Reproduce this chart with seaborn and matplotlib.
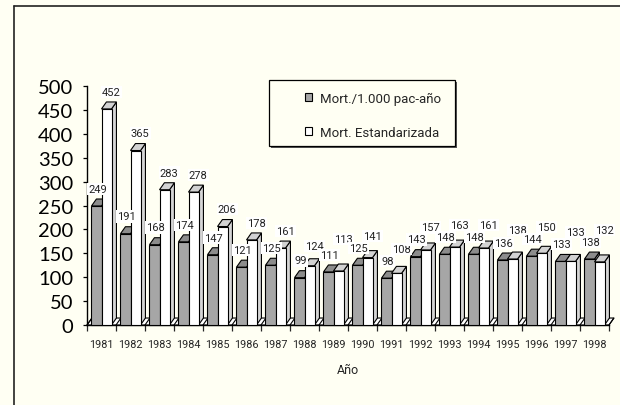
import matplotlib
matplotlib.use("Agg")
import matplotlib.pyplot as plt
from matplotlib.patches import Polygon, Rectangle, Patch
from matplotlib.lines import Line2D
import pandas as pd
import seaborn as sns

# ---- data -------------------------------------------------------------
years = ["1981", "1982", "1983", "1984", "1985", "1986", "1987", "1988", "1989",
         "1990", "1991", "1992", "1993", "1994", "1995", "1996", "1997", "1998"]
mort_rate = [249, 191, 168, 174, 147, 121, 125, 99, 111,
             125, 98, 143, 148, 148, 136, 144, 133, 138]
mort_std = [452, 365, 283, 278, 206, 178, 161, 124, 113,
            141, 108, 157, 163, 161, 138, 150, 133, 132]
series = ["Mort./1.000 pac-año", "Mort. Estandarizada"]
y_ticks = [0, 50, 100, 150, 200, 250, 300, 350, 400, 450, 500]

# ---- style ------------------------------------------------------------
BG = "#FFFFF3"
GRAY = "#A6A6A6"
GRAY_TOP = "#8C8C8C"
WHITE_TOP = "#D2D2D2"
WHITE_SIDE = "#D6D6D6"
TXT = ["Roboto", "DejaVu Sans"]
NUMS = ["Lato", "DejaVu Sans"]

sns.set_theme(style="white")
plt.rcParams["font.family"] = TXT
plt.rcParams["axes.edgecolor"] = "black"

df = pd.DataFrame({
    "Año": years * 2,
    "valor": mort_rate + mort_std,
    "serie": [series[0]] * len(years) + [series[1]] * len(years),
})

W, H = 620, 406
fig = plt.figure(figsize=(W / 100, H / 100), dpi=100, facecolor=BG)
ax = fig.add_axes([87 / W, 80 / H, 522 / W, 239 / H])
ax.set_facecolor("none")

sns.barplot(data=df, x="Año", y="valor", hue="serie", hue_order=series,
            palette=[GRAY, "white"], width=0.69, saturation=1,
            edgecolor="black", linewidth=0.8, legend=False, ax=ax)

ax.set_xlim(-0.5, len(years) - 0.5)
ax.set_ylim(0, 500)

# depth of the pseudo-3D extrusion (category units, value units)
dx, dy = 0.17, 14.6

# floor with category dividers
n = len(years)
floor = Polygon([(-0.5, 0), (n - 0.5, 0), (n - 0.5 + dx, dy), (-0.5 + dx, dy)],
                closed=True, facecolor="white", edgecolor="black", lw=0.8,
                zorder=1.2, clip_on=False)
ax.add_patch(floor)
for k in range(n + 1):
    ax.plot([k - 0.5, k - 0.5 + dx], [0, dy], color="black", lw=0.8,
            zorder=1.3, clip_on=False)

top_cols = [GRAY_TOP, WHITE_TOP]
side_cols = ["#BDBDBD", WHITE_SIDE]
for h, cont in enumerate(ax.containers):
    for i, bar in enumerate(cont):
        x0, w, v = bar.get_x(), bar.get_width(), bar.get_height()
        base = 3 + i * 4 + h * 2
        bar.set_zorder(base + 1)
        bar.set_clip_on(False)
        top = Polygon([(x0, v), (x0 + dx, v + dy), (x0 + w + dx, v + dy), (x0 + w, v)],
                      closed=True, facecolor=top_cols[h], edgecolor="black",
                      lw=0.8, zorder=base, clip_on=False)
        side = Polygon([(x0 + w, 0), (x0 + w + dx, dy), (x0 + w + dx, v + dy), (x0 + w, v)],
                       closed=True, facecolor=side_cols[h], edgecolor="black",
                       lw=0.8, zorder=base, clip_on=False)
        ax.add_patch(side)
        ax.add_patch(top)

# value labels; a white-series label is raised when it would collide with
# the grey-series label of the same year or of the following year
LAB_UP = 36
for i in range(n):
    g_bar = ax.containers[0][i]
    w_bar = ax.containers[1][i]
    g_v, w_v = g_bar.get_height(), w_bar.get_height()
    g_y = g_v + LAB_UP
    w_y = w_v + LAB_UP
    if abs(w_y - g_y) < 25:
        w_y = g_y + 25
    if i + 1 < n:
        nxt_y = ax.containers[0][i + 1].get_height() + LAB_UP
        if abs(w_y - nxt_y) < 19:
            w_y = nxt_y + 19
    for bar, v, shift, y in ((g_bar, g_v, 0.03, g_y), (w_bar, w_v, 0.16, w_y)):
        ax.text(bar.get_x() + bar.get_width() / 2 + shift, y,
                f"{int(round(v))}", ha="center", va="center", fontsize=8,
                family=TXT, color="#222222",
                bbox=dict(facecolor="white", edgecolor="none", pad=0.8),
                zorder=200, clip_on=False)

# axes, ticks
sns.despine(ax=ax)
ax.spines["left"].set_linewidth(1.0)
ax.spines["bottom"].set_linewidth(1.0)
ax.set_yticks(y_ticks)
ax.set_yticklabels([str(t) for t in y_ticks], family=NUMS, fontsize=14.5)
ax.tick_params(axis="y", direction="out", length=3, width=0.9, pad=7,
               left=True, colors="black")
ax.set_xticks(range(n))
ax.set_xticklabels(years, fontsize=7.8)
ax.tick_params(axis="x", which="major", length=0, pad=10)
ax.set_xticks([k - 0.5 for k in range(n + 1)], minor=True)
ax.tick_params(axis="x", which="minor", direction="out", length=4,
               width=0.9, bottom=True)
ax.set_xlabel("Año", fontsize=9, labelpad=10)
ax.set_ylabel("")

# legend box with shadow
lx0, lx1, ly0, ly1 = 269, 455, 81, 147
fig.patches.append(Rectangle(((lx0 + 2) / W, 1 - (ly1 + 2) / H), (lx1 - lx0) / W,
                             (ly1 - ly0) / H, transform=fig.transFigure,
                             facecolor="#555555", edgecolor="none", zorder=1))
fig.patches.append(Rectangle((lx0 / W, 1 - ly1 / H), (lx1 - lx0) / W,
                             (ly1 - ly0) / H, transform=fig.transFigure,
                             facecolor=BG, edgecolor="black", lw=0.9, zorder=2))
handles = [Patch(facecolor=GRAY, edgecolor="black", lw=0.8),
           Patch(facecolor="white", edgecolor="black", lw=0.8)]
leg = fig.legend(handles, series, loc="upper left",
                 bbox_to_anchor=(305 / W, 1 - 93 / H), bbox_transform=fig.transFigure,
                 frameon=False, fontsize=9.5, handlelength=0.55, handleheight=0.55,
                 handletextpad=0.6, labelspacing=1.55, borderpad=0, borderaxespad=0)
leg.set_zorder(5)

# outer frame (left and top edges)
fig.add_artist(Line2D([13.5 / W, 13.5 / W], [0, 1 - 7 / H], transform=fig.transFigure,
                      color="#222222", lw=1.2))
fig.add_artist(Line2D([13.5 / W, 1], [1 - 7 / H, 1 - 7 / H], transform=fig.transFigure,
                      color="#222222", lw=1.2))

fig.savefig("out.png", dpi=100, facecolor=BG)
